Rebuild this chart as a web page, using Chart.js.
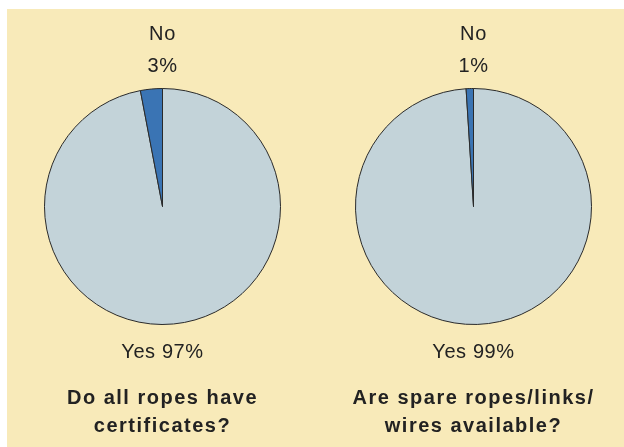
<!DOCTYPE html>
<html>
<head>
<meta charset="utf-8">
<script src="https://cdn.jsdelivr.net/npm/chart.js@4/dist/chart.umd.min.js"></script>
<style>
  body { margin: 0; background: #fff; overflow: hidden; }
  #panel { position: absolute; left: 7px; top: 9px; width: 617px; height: 438px; background: #f8eab9; }
  .box { position: absolute; top: 0; width: 311px; height: 438px; }
</style>
</head>
<body>
<div id="panel">
  <div class="box" style="left:0"><canvas id="pie1"></canvas></div>
  <div class="box" style="left:311px"><canvas id="pie2"></canvas></div>
</div>
<script>
const categories = ['Yes', 'No'];
const ropesCertified = [97, 3];
const spareAvailable = [99, 1];
const questions = [
  ['Do all ropes have', 'certificates?'],
  ['Are spare ropes/links/', 'wires available?']
];

const sliceColors = ['#c3d3d9', '#3a74b4'];

// labels above / below each pie plus the question underneath
const pieLabels = {
  id: 'pieLabels',
  afterDraw(chart, args, opts) {
    const arc = chart.getDatasetMeta(0).data[0];
    if (!arc) return;
    const { x, y, outerRadius } = arc;
    const vals = chart.data.datasets[0].data;
    const top = y - outerRadius, bottom = y + outerRadius;
    const c = chart.ctx;
    c.save();
    c.fillStyle = '#222';
    c.textAlign = 'center';
    c.textBaseline = 'middle';
    c.font = '20px "Liberation Sans", Arial, sans-serif';
    c.letterSpacing = '0.6px';
    c.fillText(categories[1], x, top - 54);
    c.fillText(vals[1] + '%', x, top - 22);
    c.fillText(categories[0] + ' ' + vals[0] + '%', x, bottom + 28);
    c.font = 'bold 20px "Liberation Sans", Arial, sans-serif';
    c.letterSpacing = '1.5px';
    opts.lines.forEach((ln, i) => c.fillText(ln, x, bottom + 74 + i * 28));
    c.restore();
  }
};

function makePie(id, values, question) {
  new Chart(document.getElementById(id), {
    type: 'pie',
    data: {
      labels: categories,
      datasets: [{
        data: values,
        backgroundColor: sliceColors,
        borderColor: '#2a2a2a',
        borderWidth: 1
      }]
    },
    options: {
      responsive: true,
      maintainAspectRatio: false,
      animation: false,
      layout: { padding: { top: 79, bottom: 122, left: 37, right: 37 } },
      plugins: {
        legend: { display: false },
        tooltip: { enabled: false },
        pieLabels: { lines: question }
      }
    },
    plugins: [pieLabels]
  });
}

makePie('pie1', ropesCertified, questions[0]);
makePie('pie2', spareAvailable, questions[1]);
</script>
</body>
</html>
